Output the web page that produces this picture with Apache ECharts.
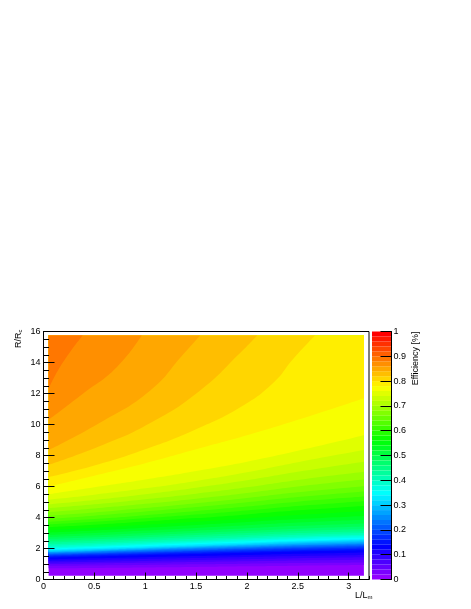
<!DOCTYPE html>
<html>
<head>
<meta charset="utf-8">
<title>Efficiency</title>
<script src="https://cdn.jsdelivr.net/npm/echarts@6/dist/echarts.min.js"></script>
<style>
html, body { margin: 0; padding: 0; background: #fff; }
#main { width: 471px; height: 609px; }
</style>
</head>
<body>
<div id="main"></div>
<script>
var lGrid = [0.05, 0.5, 1, 1.5, 2, 2.5, 3.15];
var rTop = 15.75;

// R/Rc of the lower edge of each colour band, band index = palette index
var band0 = [0.25, 0.25, 0.25, 0.25, 0.25, 0.25, 0.25];
var band1 = [0.72, 0.75, 0.78, 0.81, 0.85, 0.89, 0.93];
var band2 = [0.88, 0.91, 0.94, 0.98, 1.02, 1.06, 1.10];
var band3 = [1.00, 1.04, 1.08, 1.13, 1.17, 1.22, 1.27];
var band4 = [1.10, 1.15, 1.20, 1.26, 1.31, 1.37, 1.43];
var band5 = [1.20, 1.26, 1.32, 1.38, 1.45, 1.51, 1.58];
var band6 = [1.30, 1.37, 1.44, 1.51, 1.58, 1.66, 1.75];
var band7 = [1.42, 1.49, 1.57, 1.64, 1.72, 1.80, 1.88];
var band8 = [1.49, 1.57, 1.65, 1.73, 1.81, 1.89, 1.98];
var band9 = [1.55, 1.63, 1.71, 1.80, 1.89, 1.98, 2.07];
var band10 = [1.60, 1.68, 1.77, 1.86, 1.96, 2.05, 2.15];
var band11 = [1.65, 1.73, 1.83, 1.92, 2.02, 2.11, 2.21];
var band12 = [1.69, 1.78, 1.88, 1.98, 2.08, 2.18, 2.27];
var band13 = [1.73, 1.82, 1.92, 2.03, 2.13, 2.23, 2.33];
var band14 = [1.77, 1.86, 1.97, 2.08, 2.19, 2.29, 2.40];
var band15 = [1.81, 1.91, 2.02, 2.13, 2.24, 2.36, 2.47];
var band16 = [1.86, 1.96, 2.07, 2.19, 2.31, 2.43, 2.55];
var band17 = [1.93, 2.03, 2.15, 2.27, 2.38, 2.50, 2.62];
var band18 = [2.00, 2.10, 2.22, 2.35, 2.47, 2.59, 2.71];
var band19 = [2.08, 2.18, 2.31, 2.43, 2.56, 2.68, 2.80];
var band20 = [2.17, 2.27, 2.40, 2.52, 2.65, 2.77, 2.89];
var band21 = [2.27, 2.37, 2.50, 2.63, 2.75, 2.88, 3.00];
var band22 = [2.38, 2.48, 2.61, 2.74, 2.87, 3.00, 3.12];
var band23 = [2.49, 2.60, 2.73, 2.87, 3.00, 3.13, 3.26];
var band24 = [2.61, 2.72, 2.86, 3.00, 3.14, 3.28, 3.42];
var band25 = [2.74, 2.85, 3.00, 3.15, 3.30, 3.46, 3.62];
var band26 = [2.88, 3.00, 3.16, 3.33, 3.50, 3.67, 3.85];
var band27 = [3.03, 3.16, 3.34, 3.52, 3.71, 3.90, 4.10];
var band28 = [3.20, 3.34, 3.53, 3.73, 3.94, 4.16, 4.40];
var band29 = [3.38, 3.53, 3.74, 3.96, 4.20, 4.46, 4.75];
var band30 = [3.55, 3.72, 3.95, 4.19, 4.45, 4.74, 5.05];
var band31 = [3.72, 3.90, 4.15, 4.42, 4.71, 5.02, 5.35];
var band32 = [3.92, 4.12, 4.38, 4.67, 4.98, 5.32, 5.68];
var band33 = [4.12, 4.33, 4.61, 4.92, 5.26, 5.63, 6.02];
var band34 = [4.35, 4.58, 4.88, 5.21, 5.58, 6.00, 6.45];
var band35 = [4.60, 4.85, 5.18, 5.54, 5.95, 6.42, 6.95];
var band36 = [4.85, 5.13, 5.50, 5.92, 6.40, 6.95, 7.60];
var band37 = [5.15, 5.47, 5.88, 6.36, 6.92, 7.57, 8.35];
var band38 = [5.50, 5.95, 6.45, 7.00, 7.60, 8.30, 9.30];
var band39 = [6.00, 6.70, 7.50, 8.40, 9.30, 10.30, 11.70];

// these run out through the top of the plot, so they keep their own L values
var band40L = [0.05, 0.5, 1, 1.5, 1.93, 2.26, 2.45, 2.67];
var band40 = [6.6, 7.35, 8.4, 9.7, 11.1, 12.7, 14.2, 15.75];
var band41L = [0.05, 0.55, 1.05, 1.54, 1.93, 2.1];
var band41 = [7.4, 8.6, 10.1, 12.2, 14.6, 15.75];
var band42L = [0.05, 0.55, 1.05, 1.37, 1.54];
var band42 = [8.35, 10.1, 12.2, 14.5, 15.75];
var band43L = [0.05, 0.39, 0.72, 0.965];
var band43 = [10.3, 12.0, 13.7, 15.75];
var band44L = [0.05, 0.18, 0.385];
var band44 = [12.3, 13.9, 15.75];

var bands = [
    band0, band1, band2, band3, band4, band5, band6, band7, band8, band9,
    band10, band11, band12, band13, band14, band15, band16, band17, band18, band19,
    band20, band21, band22, band23, band24, band25, band26, band27, band28, band29,
    band30, band31, band32, band33, band34, band35, band36, band37, band38, band39,
    band40, band41, band42, band43, band44
];
var bandL = { 40: band40L, 41: band41L, 42: band42L, 43: band43L, 44: band44L };

// colour bar: 50 steps of 0.02
var paletteStep = 0.02;
var paletteSize = 50;

//rainbow palette, hue goes from violet down to red
function paletteColor(i) {
    return 'hsl(' + (280 - (i + 1) * 5.6) + ',100%,50%)';
}

var series = [];
for (var i = 0; i < bands.length; i++) {
    var xs = bandL[i] || lGrid;
    var points = [];
    for (var j = 0; j < xs.length; j++) {
        points.push([xs[j], bands[i][j]]);
    }
    series.push({
        type: 'line',
        name: 'band' + i,
        xAxisIndex: 0,
        yAxisIndex: 0,
        data: points,
        symbol: 'none',
        smooth: 0.5,
        lineStyle: { width: 0 },
        areaStyle: { color: paletteColor(i), opacity: 1, origin: rTop },
        silent: true,
        z: 2
    });
}

//colour bar
for (var k = 0; k < paletteSize; k++) {
    series.push({
        type: 'bar',
        name: 'palette' + k,
        xAxisIndex: 2,
        yAxisIndex: 1,
        stack: 'palette',
        data: [paletteStep],
        barWidth: '100%',
        itemStyle: { color: paletteColor(k) },
        silent: true,
        z: 2
    });
}

var labelStyle = { color: '#000', fontFamily: 'Liberation Sans', fontSize: 9 };
var nameRich = {
    n: { color: '#000', fontFamily: 'Liberation Sans', fontSize: 9 },
    s: { color: '#000', fontFamily: 'Liberation Sans', fontSize: 6, verticalAlign: 'bottom', padding: [4, 0, 0, 0] }
};
var tickLine = { color: '#000', width: 1 };

var option = {
    animation: false,
    backgroundColor: '#fff',
    grid: [
        { left: 43.5, top: 331.5, width: 325.5, height: 248, show: true, borderColor: '#000', borderWidth: 1, backgroundColor: 'transparent', containLabel: false },
        { left: 372, top: 331.5, width: 19.5, height: 248, containLabel: false }
    ],
    xAxis: [
        {
            type: 'value', gridIndex: 0, min: 0, max: 3.2, interval: 0.5,
            name: '{n|L/L}{s|m}',
            nameLocation: 'end',
            nameGap: -3,
            nameTextStyle: { align: 'right', verticalAlign: 'top', padding: [11, 0, 0, 0], rich: nameRich },
            axisLine: { show: true, onZero: false, lineStyle: tickLine },
            axisTick: { show: true, inside: true, length: 7, lineStyle: tickLine },
            axisLabel: { margin: 3, showMaxLabel: false, hideOverlap: false, formatter: function (v) { return String(v); }, color: '#000', fontFamily: 'Liberation Sans', fontSize: 9 },
            splitLine: { show: false },
            z: 10
        },
        {
            //minor ticks, 0.1 apart
            type: 'value', gridIndex: 0, min: 0, max: 3.2, interval: 0.1, position: 'bottom',
            axisLine: { show: false },
            axisTick: { show: true, inside: true, length: 3.5, lineStyle: tickLine },
            axisLabel: { show: false },
            splitLine: { show: false },
            z: 10
        },
        {
            type: 'category', gridIndex: 1, data: ['z'], show: false,
            axisTick: { show: false }
        }
    ],
    yAxis: [
        {
            type: 'value', gridIndex: 0, min: 0, max: 16, interval: 2,
            name: '{n|R/R}{s|c}',
            nameLocation: 'end',
            nameGap: 2,
            nameRotate: 90,
            nameTextStyle: { align: 'right', verticalAlign: 'bottom', padding: [0, 0, 20, 0], rich: nameRich },
            axisLine: { show: true, onZero: false, lineStyle: tickLine },
            axisTick: { show: true, inside: true, length: 11, lineStyle: tickLine },
            minorTick: { show: true, splitNumber: 4, length: 5.5, lineStyle: tickLine },
            axisLabel: { margin: 3, showMaxLabel: true, showMinLabel: true, color: '#000', fontFamily: 'Liberation Sans', fontSize: 9 },
            splitLine: { show: false },
            minorSplitLine: { show: false },
            z: 10
        },
        {
            type: 'value', gridIndex: 1, min: 0, max: 1, interval: 0.1, position: 'right',
            name: 'Efficiency [%]',
            nameLocation: 'end',
            nameGap: 0,
            nameRotate: 90,
            nameTextStyle: Object.assign({}, labelStyle, { align: 'right', verticalAlign: 'top', padding: [20, 0, 0, 0] }),
            axisLine: { show: true, onZero: false, lineStyle: tickLine },
            axisTick: { show: true, inside: true, length: 11, lineStyle: tickLine },
            axisLabel: { margin: 2, color: '#000', fontFamily: 'Liberation Sans', fontSize: 9 },
            splitLine: { show: false },
            z: 10
        }
    ],
    series: series
};

var myChart = echarts.init(document.getElementById('main'), null, { renderer: 'canvas' });
myChart.setOption(option);
</script>
</body>
</html>
